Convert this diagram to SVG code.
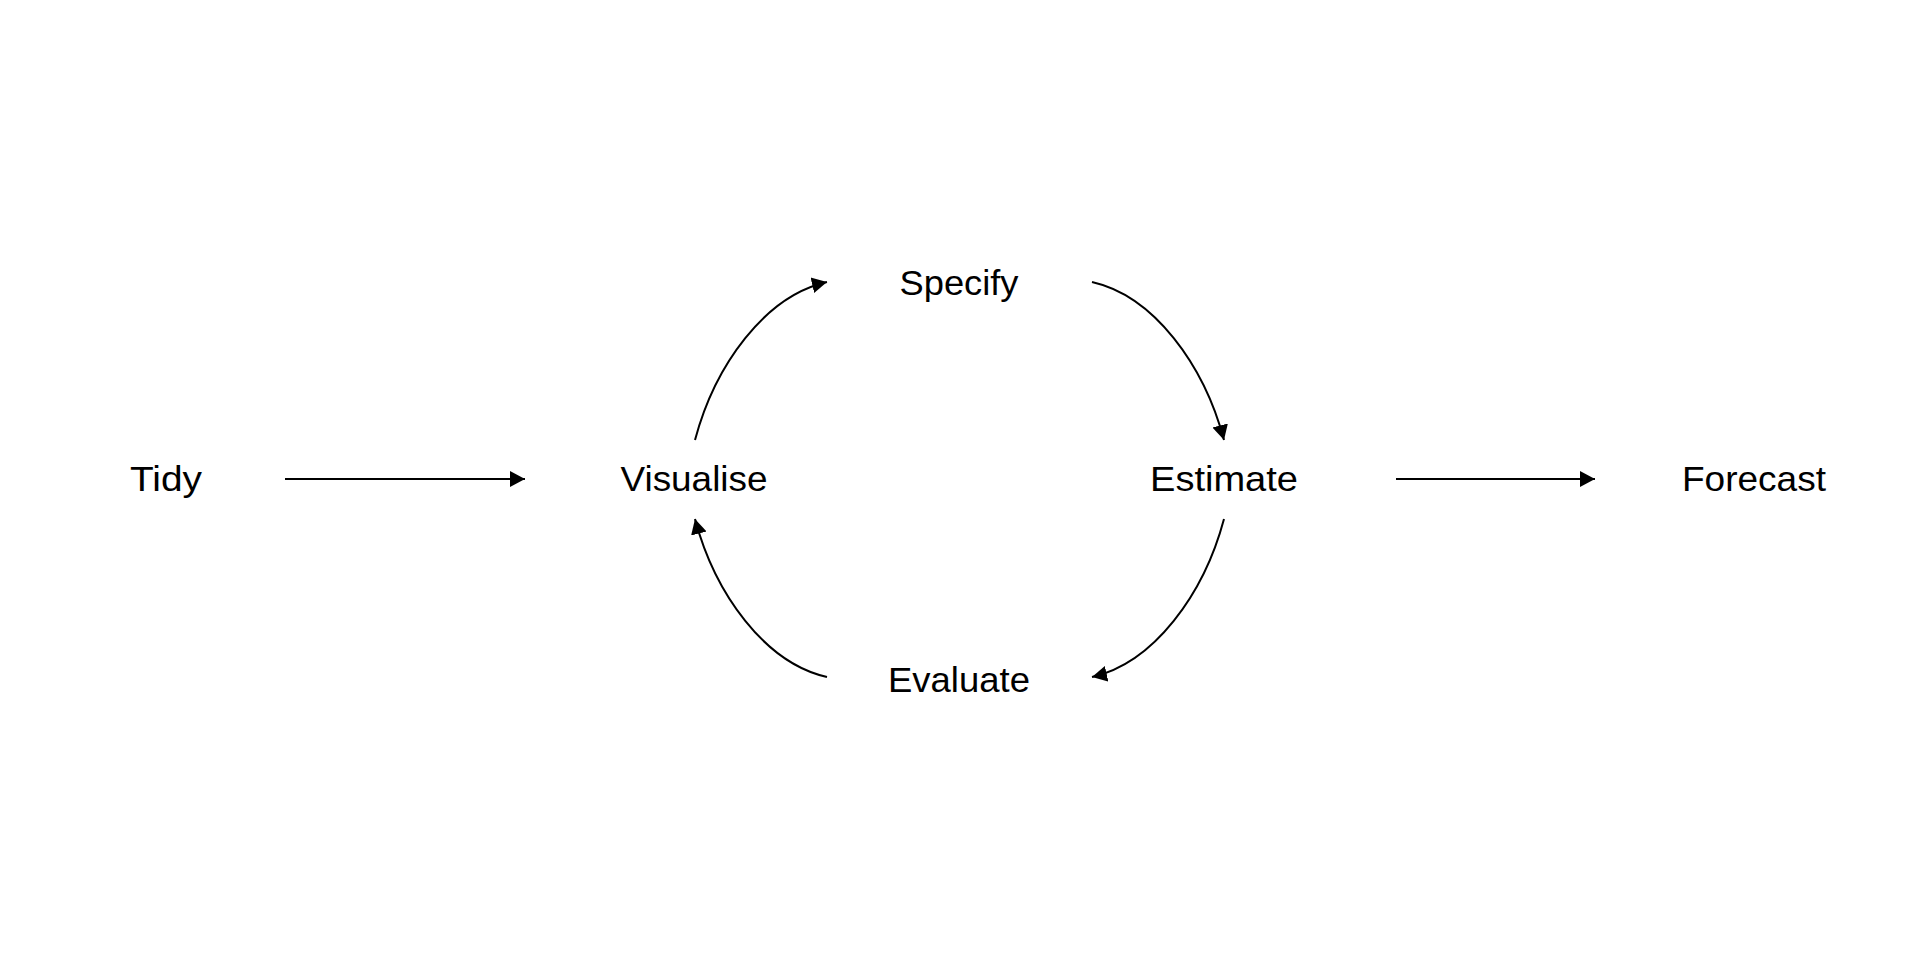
<svg xmlns="http://www.w3.org/2000/svg" width="1920" height="960" viewBox="0 0 1920 960">
<style>
  .lbl { font-family: "Liberation Sans", Arial, sans-serif; font-size: 35px; fill: #000; text-anchor: middle; }
  .edge { fill: none; stroke: #000; stroke-width: 2; }
</style>
<defs>
  <marker id="arr" markerUnits="userSpaceOnUse" markerWidth="16" markerHeight="18" viewBox="0 0 16 18" refX="15" refY="9" orient="auto">
    <path d="M0,1 L15,9 L0,17 z" fill="#000"/>
  </marker>
</defs>
<rect width="1920" height="960" fill="#fff"/>
<g id="connectors">
  <line class="edge" x1="285" y1="479" x2="525" y2="479" marker-end="url(#arr)"/>
  <path class="edge" d="M695,440 C715,365 765,296 827,282" marker-end="url(#arr)"/>
  <path class="edge" d="M1092,282 C1154,296 1204,365 1224,440" marker-end="url(#arr)"/>
  <path class="edge" d="M1224,519 C1204,594 1154,663 1092,677" marker-end="url(#arr)"/>
  <path class="edge" d="M827,677 C765,663 715,594 695,519" marker-end="url(#arr)"/>
  <line class="edge" x1="1396" y1="479" x2="1595" y2="479" marker-end="url(#arr)"/>
</g>
<g id="tidy"><text class="lbl" x="166" y="491" textLength="72" lengthAdjust="spacingAndGlyphs">Tidy</text></g>
<g id="visualise"><text class="lbl" x="694" y="491" textLength="147" lengthAdjust="spacingAndGlyphs">Visualise</text></g>
<g id="specify"><text class="lbl" x="959" y="294.5" textLength="119" lengthAdjust="spacingAndGlyphs">Specify</text></g>
<g id="estimate"><text class="lbl" x="1224" y="491" textLength="148" lengthAdjust="spacingAndGlyphs">Estimate</text></g>
<g id="evaluate"><text class="lbl" x="959" y="692" textLength="142" lengthAdjust="spacingAndGlyphs">Evaluate</text></g>
<g id="forecast"><text class="lbl" x="1754" y="491" textLength="144" lengthAdjust="spacingAndGlyphs">Forecast</text></g>
</svg>
